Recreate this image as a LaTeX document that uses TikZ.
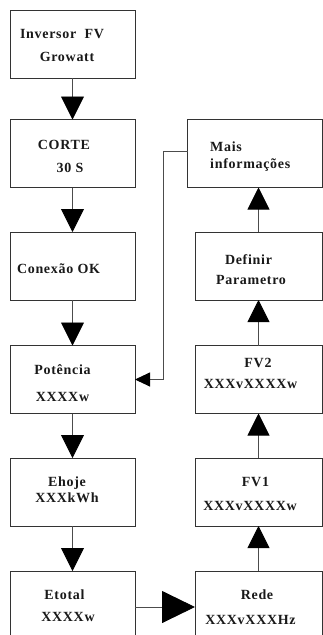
\documentclass[tikz,border=0pt]{standalone}
\usepackage{fontspec}
\setmainfont{Liberation Serif}[LetterSpace=5]
\usetikzlibrary{arrows.meta}
\begin{document}
\begin{tikzpicture}[x=1pt,y=-1pt,
  box/.style={draw=black!80, line width=0.9pt, inner sep=0pt, outer sep=0pt},
  lbox/.style={box, minimum width=125pt, minimum height=68pt},
  rbox/.style={box, minimum width=127pt, minimum height=68pt},
  txt/.style={anchor=base, inner sep=0pt, text=black!90, font=\fontsize{14}{16}\selectfont\bfseries},
  conn/.style={draw=black!70, line width=0.9pt},
  bigdown/.style={conn, -{Triangle[length=23pt, width=23pt, fill=black, color=black]}},
  bigup/.style={conn, -{Triangle[length=22pt, width=22pt, fill=black, color=black]}},
  bigright/.style={conn, -{Triangle[length=33pt, width=32pt, fill=black, color=black]}},
  smallleft/.style={conn, -{Triangle[length=15pt, width=14pt, fill=black, color=black]}}]
\useasboundingbox (0,0) rectangle (323,635);
\clip (0,0) rectangle (323,635);
% left column boxes
\node[lbox] (b1) at (72.5,44) {};
\node[lbox] (b2) at (72.5,153.5) {};
\node[lbox] (b3) at (72.5,266) {};
\node[lbox] (b4) at (72.5,379.5) {};
\node[lbox] (b5) at (72.5,492) {};
\node[lbox, minimum height=72pt] (b6) at (72.5,607) {};
% right column boxes
\node[box, minimum width=135pt, minimum height=68pt] (mais) at (255,153.5) {};
\node[rbox] (def) at (258.5,266) {};
\node[rbox] (fv2) at (258.5,379.5) {};
\node[rbox] (fv1) at (258.5,492) {};
\node[rbox, minimum height=72pt] (rede) at (258.5,607) {};
% texts
\node[txt] (t1a) at (62,38) {Inversor\ \ FV};
\node[txt] (t1b) at (67,61) {Growatt};
\node[txt] (t2a) at (64,149) {CORTE};
\node[txt] (t2b) at (70,172) {30 S};
\node[txt] (t3a) at (58.5,273) {Conexão OK};
\node[txt] (t4a) at (62.5,374) {Potência};
\node[txt] (t4b) at (62.5,401) {XXXXw};
\node[txt] (t5a) at (67,486) {Ehoje};
\node[txt] (t5b) at (67,502) {XXXkWh};
\node[txt] (t6a) at (64.5,599) {Etotal};
\node[txt] (t6b) at (68,621) {XXXXw};
\node[txt, anchor=base west] (tma) at (210,151) {Mais};
\node[txt, anchor=base west] (tmb) at (210,168) {informações};
\node[txt] (tda) at (248.5,264) {Definir};
\node[txt] (tdb) at (251,284) {Parametro};
\node[txt] (tf2a) at (258,367) {FV2};
\node[txt] (tf2b) at (250.5,388) {XXXvXXXXw};
\node[txt] (tf1a) at (255.5,486) {FV1};
\node[txt] (tf1b) at (250,510) {XXXvXXXXw};
\node[txt] (tra) at (257,599) {Rede};
\node[txt] (trb) at (250.5,624) {XXXvXXXHz};
% connectors
\draw[bigdown] (b1.south) -- (b2.north);
\draw[bigdown] (b2.south) -- (b3.north);
\draw[bigdown] (b3.south) -- (b4.north);
\draw[bigdown] (b4.south) -- (b5.north);
\draw[bigdown] (b5.south) -- (b6.north);
\draw[bigright] (b6.east) -- (rede.west);
\draw[bigup] (rede.north) -- (fv1.south);
\draw[bigup] (fv1.north) -- (fv2.south);
\draw[bigup] (fv2.north) -- (def.south);
\draw[bigup] (def.north) -- (def.north |- mais.south);
\coordinate (mw) at ([yshift=2.5pt]mais.west);
\draw[smallleft] (mw) -- ++(-24,0) |- (b4.east);
\end{tikzpicture}
\end{document}
